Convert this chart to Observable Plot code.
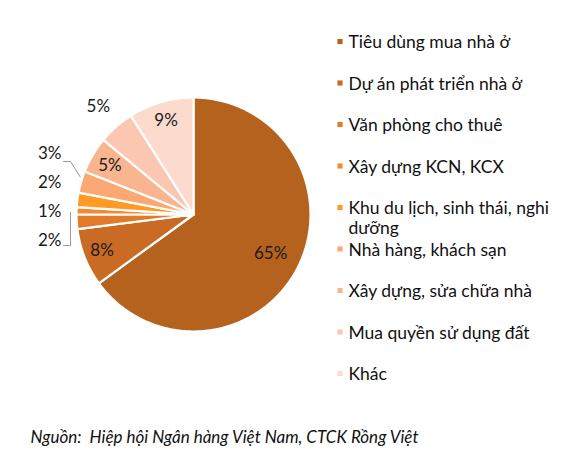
<!DOCTYPE html>
<html><head><meta charset="utf-8">
<script src="https://cdn.jsdelivr.net/npm/d3@7"></script>
<script src="https://cdn.jsdelivr.net/npm/@observablehq/plot@0.6"></script>
<style>
body{margin:0;background:#fff;font-family:Lato,sans-serif}
#chart{width:564px;height:473px}
</style></head><body><div id="chart"></div>
<script>
// ---- data ----
const categories = ["Tiêu dùng mua nhà ở","Dự án phát triển nhà ở","Văn phòng cho thuê","Xây dựng KCN, KCX","Khu du lịch, sinh thái, nghi\ndưỡng","Nhà hàng, khách sạn","Xây dựng, sửa chữa nhà","Mua quyền sử dụng đất","Khác"];
const values = [65, 8, 2, 1, 2, 3, 5, 5, 9];
const colors = ["#B5621F","#C96B24","#E27A2B","#F28A33","#FF9A24","#FBA873","#F9B590","#FBC7B1","#FDDACE"];
const source = "Nguồn:  Hiệp hội Ngân hàng Việt Nam, CTCK Rồng Việt";

// ---- layout (pixels) ----
const W = 564, H = 473, CX = 193, CY = 214, R = 117;
const ux = px => (px - CX) / R, uy = py => (py - CY) / R;

// slices from d3.pie (clockwise from 12 o'clock)
const arcs = d3.pie().sort(null).value(d => d)(values);
const pt = (a, r) => [r * Math.sin(a), -r * Math.cos(a)];
const slices = arcs.map((a, i) => {
  const ring = [[0, 0]];
  const n = Math.max(2, Math.ceil((a.endAngle - a.startAngle) / 0.01));
  for (let k = 0; k <= n; k++) ring.push(pt(a.startAngle + (a.endAngle - a.startAngle) * k / n, 1));
  ring.push([0, 0]);
  return {type: "Feature", properties: {color: colors[i], name: categories[i]}, geometry: {type: "Polygon", coordinates: [ring]}};
});
const mid = a => (a.startAngle + a.endAngle) / 2;

// labels placed on slice mid-angles
const radial = [{i: 0, r: 0.74}, {i: 1, r: 0.84}, {i: 6, r: 0.83}, {i: 8, r: 0.84}, {i: 7, r: 1.23}];
const radialLabels = radial.map(({i, r}) => {
  const [x, y] = pt(mid(arcs[i]), r);
  return {x, y, text: values[i] + "%"};
});
const stacked = [2, 3, 4, 5];
const stackedLabels = stacked.map((i, k) => ({x: ux(61), y: uy(240 - k * 29), text: values[i] + "%"}));

// leader lines
const a5 = arcs[5], a2 = arcs[2];
const l5y = uy(240 - 3 * 29 + 8), l2y = uy(240 + 5);
const p5 = pt(a5.startAngle + 0.7 * (a5.endAngle - a5.startAngle), 1.02);
const leaders = [
  {type: "LineString", coordinates: [[ux(63), l5y], [ux(70), l5y], p5]},
  {type: "LineString", coordinates: [[ux(63), l2y], [ux(70), l2y], [ux(70), -Math.cos(a2.endAngle) - 2 / R]]}
];

// legend
const legend = categories.map((c, i) => ({x: ux(339.5), tx: ux(348), y: uy(41 + i * 41.5), name: c, color: colors[i]}));

// projection domain = whole page, so 1 unit = R px and the pie centre sits at (CX, CY)
const page = {type: "Polygon", coordinates: [[[ux(0), uy(0)], [ux(W), uy(0)], [ux(W), uy(H)], [ux(0), uy(H)], [ux(0), uy(0)]]]};

const chart = Plot.plot({
  width: W, height: H,
  margin: 0,
  projection: {type: "identity", inset: 0, domain: page},
  color: {type: "identity"},
  style: {fontFamily: "Lato, sans-serif", background: "#fff"},
  marks: [
    Plot.geo(slices, {fill: d => d.properties.color, stroke: "#fff", strokeWidth: 2.2, strokeLinejoin: "round"}),
    Plot.geo(leaders, {stroke: "#9a9a9a", strokeWidth: 1}),
    Plot.text(radialLabels, {x: "x", y: "y", text: "text", fontSize: 17, fill: "#1a1a1a"}),
    Plot.text(stackedLabels, {x: "x", y: "y", text: "text", fontSize: 17, fill: "#1a1a1a", textAnchor: "end"}),
    Plot.dot(legend, {x: "x", y: "y", symbol: "square", r: 2.9, fill: "color", stroke: null}),
    Plot.text(legend, {x: "tx", y: "y", text: "name", fontSize: 17.5, fill: "#111", textAnchor: "start", lineAnchor: "top", dy: -6.8, lineHeight: 1.1}),
    Plot.text([source], {x: ux(30), y: uy(437), text: d => d, fontSize: 17, fontStyle: "italic", fill: "#111", textAnchor: "start"})
  ]
});
document.getElementById("chart").appendChild(chart);
</script>
</body></html>
